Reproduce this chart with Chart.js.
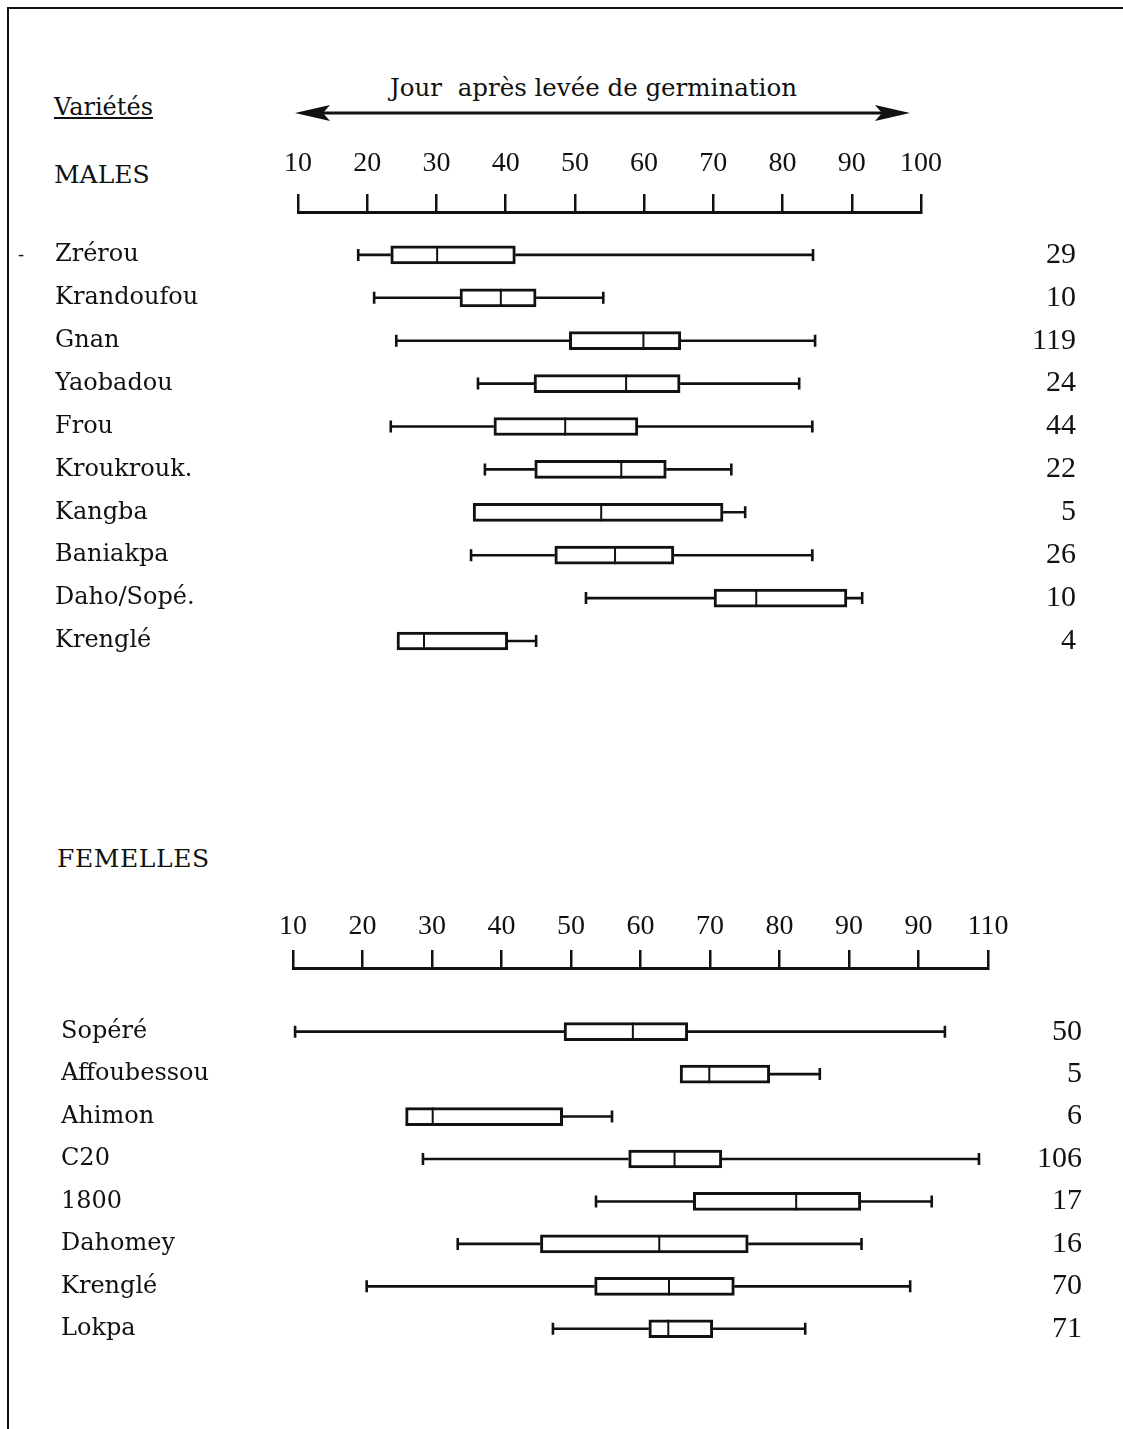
<!DOCTYPE html>
<html>
<head>
<meta charset="utf-8">
<script src="https://cdn.jsdelivr.net/npm/chart.js@4.4.1/dist/chart.umd.min.js"></script>
<style>
body { margin: 0; background: #fff; width: 1123px; height: 1429px; position: relative; overflow: hidden; font-family: "DejaVu Serif", serif; color: #111; }
.frame { position: absolute; left: 7px; top: 7px; width: 1200px; height: 1500px; border-left: 2.5px solid #111; border-top: 2px solid #111; }
.t { position: absolute; white-space: nowrap; line-height: 1; }
.box { position: absolute; }
</style>
</head>
<body>
<div class="frame"></div>
<div class="t" style="left:54px;top:95px;font-size:24px;text-decoration:underline;">Variétés</div>
<div class="t" style="left:390px;top:76px;font-size:24.5px;">Jour&nbsp; après levée de germination</div>
<svg style="position:absolute;left:0;top:0;" width="1123" height="140">
  <line x1="315" y1="113" x2="890" y2="113" stroke="#111" stroke-width="3"/>
  <path d="M295 113 L330 105 L323 113 L330 121 Z" fill="#111"/>
  <path d="M910 113 L875 105 L882 113 L875 121 Z" fill="#111"/>
</svg>
<div class="t" style="left:54px;top:162px;font-size:25px;">MALES</div>
<div class="t" style="left:18px;top:246px;font-size:18px;">-</div>
<div class="t" style="left:57px;top:846px;font-size:25px;letter-spacing:0.6px;">FEMELLES</div>

<div class="box" style="left:55px;top:130px;width:1021px;height:532px;"><canvas id="males"></canvas></div>
<div class="box" style="left:61px;top:885px;width:1021px;height:486px;"><canvas id="femelles"></canvas></div>

<script>
// MALES
var maleNames  = ['Zrérou', 'Krandoufou', 'Gnan', 'Yaobadou', 'Frou', 'Kroukrouk.', 'Kangba', 'Baniakpa', 'Daho/Sopé.', 'Krenglé'];
var maleMin    = [18.7, 21.0, 24.2, 36.0, 23.4, 37.0, 35.3, 35.0, 51.6, 24.3];
var maleQ1     = [23.4, 33.4, 49.2, 44.1, 38.3, 44.2, 35.3, 47.1, 70.1, 24.3];
var maleMedian = [30.1, 39.3, 59.9, 57.4, 48.6, 56.7, 53.8, 55.8, 76.2, 28.2];
var maleQ3     = [41.4, 44.4, 65.3, 65.2, 59.1, 63.2, 71.4, 64.3, 89.3, 40.3];
var maleMax    = [84.4, 54.1, 84.7, 82.4, 84.3, 72.6, 74.6, 84.3, 91.5, 44.4];
var maleCounts = [29, 10, 119, 24, 44, 22, 5, 26, 10, 4];
var maleTicks  = ['10', '20', '30', '40', '50', '60', '70', '80', '90', '100'];

// FEMELLES
var femaleNames  = ['Sopéré', 'Affoubessou', 'Ahimon', 'C20', '1800', 'Dahomey', 'Krenglé', 'Lokpa'];
var femaleMin    = [10.3, 65.7, 26.2, 28.7, 53.6, 33.7, 20.6, 47.4];
var femaleQ1     = [49.0, 65.7, 26.2, 58.3, 67.6, 45.6, 53.4, 61.2];
var femaleMedian = [58.9, 69.9, 30.1, 64.9, 82.4, 62.7, 64.1, 64.0];
var femaleQ3     = [66.8, 78.6, 48.8, 71.7, 91.7, 75.5, 73.5, 70.4];
var femaleMax    = [103.8, 85.8, 55.9, 108.7, 101.9, 91.8, 98.8, 83.7];
var femaleCounts = [50, 5, 6, 106, 17, 16, 70, 71];
var femaleTicks  = ['10', '20', '30', '40', '50', '60', '70', '80', '90', '90', '110'];

var ink = '#111';
var numFont = { family: '"Liberation Serif", serif', size: 28, lineHeight: 1.2 };
var countFont = { family: '"Liberation Serif", serif', size: 30, lineHeight: 1.2 };
var nameFont = { family: '"DejaVu Serif", serif', size: 24, lineHeight: 1.2 };

// whiskers, caps and median lines drawn over the floating bars
var boxPlot = {
  id: 'boxPlot',
  afterDatasetsDraw: function (chart, args, opts) {
    var ctx = chart.ctx, xs = chart.scales.x;
    var meta = chart.getDatasetMeta(0);
    ctx.save();
    ctx.strokeStyle = ink;
    for (var k = 0; k < opts.med.length; k++) {
      var bar = meta.data[k + 1];
      var y = bar.y, h = bar.height / 2;
      var lo = xs.getPixelForValue(opts.min[k]);
      var a = xs.getPixelForValue(opts.q1[k]);
      var m = xs.getPixelForValue(opts.med[k]);
      var b = xs.getPixelForValue(opts.q3[k]);
      var hi = xs.getPixelForValue(opts.max[k]);
      ctx.lineWidth = 2.6;
      ctx.beginPath();
      if (lo < a - 1) {
        ctx.moveTo(lo, y); ctx.lineTo(a, y);
        ctx.moveTo(lo, y - 6); ctx.lineTo(lo, y + 6);
      }
      if (hi > b + 1) {
        ctx.moveTo(b, y); ctx.lineTo(hi, y);
        ctx.moveTo(hi, y - 6); ctx.lineTo(hi, y + 6);
      }
      ctx.stroke();
      ctx.lineWidth = 2;
      ctx.beginPath();
      ctx.moveTo(m, y - h); ctx.lineTo(m, y + h);
      ctx.stroke();
    }
    ctx.restore();
  }
};

function makeChart(id, names, mn, q1, med, q3, mx, counts, tickLabels, xmin, xmax, yAxisW, rightW, xAxisH, labelPad, offset, padBottom) {
  var labels = [''].concat(names);
  var countLabels = [''].concat(counts.map(String));
  var boxes = [null].concat(names.map(function (n, i) { return [q1[i], q3[i]]; }));
  return new Chart(document.getElementById(id), {
    type: 'bar',
    data: {
      labels: labels,
      datasets: [{
        data: boxes,
        backgroundColor: '#fff',
        borderColor: ink,
        borderWidth: 3,
        borderSkipped: false,
        barThickness: 18,
        clip: false
      }]
    },
    options: {
      indexAxis: 'y',
      responsive: true,
      maintainAspectRatio: false,
      animation: false,
      layout: { padding: { top: 0, bottom: padBottom, left: 0, right: 0 } },
      plugins: {
        legend: { display: false },
        tooltip: { enabled: false },
        boxPlot: { min: mn, q1: q1, med: med, q3: q3, max: mx }
      },
      scales: {
        x: {
          type: 'linear',
          position: 'top',
          min: xmin,
          max: xmax,
          afterFit: function (s) { s.height = xAxisH; },
          grid: { drawOnChartArea: false, tickLength: 18, color: ink, lineWidth: 2.5 },
          border: { display: true, color: ink, width: 3 },
          ticks: {
            stepSize: 10,
            padding: labelPad,
            color: ink,
            font: numFont,
            maxRotation: 0,
            autoSkip: false,
            callback: function (v, i) { return tickLabels[i]; }
          }
        },
        y: {
          type: 'category',
          position: 'left',
          offset: offset,
          afterFit: function (s) { s.width = yAxisW; },
          grid: { display: false },
          border: { display: false },
          ticks: { crossAlign: 'far', color: ink, font: nameFont, autoSkip: false }
        },
        y2: {
          type: 'category',
          position: 'right',
          labels: countLabels,
          offset: offset,
          afterFit: function (s) { s.width = rightW; },
          grid: { display: false },
          border: { display: false },
          ticks: { crossAlign: 'far', color: ink, font: countFont, autoSkip: false }
        }
      }
    },
    plugins: [boxPlot]
  });
}

// males: axis line at y=212, x 10..100 spans 298..921
makeChart('males', maleNames, maleMin, maleQ1, maleMedian, maleQ3, maleMax, maleCounts, maleTicks,
  10, 100, 243, 155, 82, 14, false, 20);
// femelles: axis line at y=968, x 10..110 spans 293..988
makeChart('femelles', femaleNames, femaleMin, femaleQ1, femaleMedian, femaleQ3, femaleMax, femaleCounts, femaleTicks,
  10, 110, 232, 94, 83, 7, true, 20);
</script>
</body>
</html>
